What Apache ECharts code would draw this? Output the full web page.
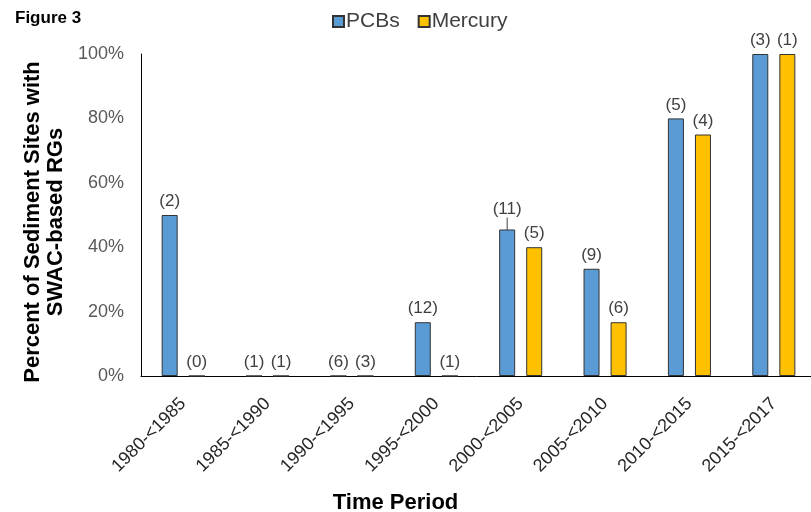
<!DOCTYPE html>
<html>
<head>
<meta charset="utf-8">
<script src="https://cdn.jsdelivr.net/npm/echarts@6/dist/echarts.min.js"></script>
<style>
  html, body { margin: 0; padding: 0; background: #fff; }
  #chart { width: 811px; height: 512px; }
</style>
</head>
<body>
<div id="chart"></div>
<script>
// Time periods on the x axis
const periods = ['1980-<1985', '1985-<1990', '1990-<1995', '1995-<2000',
                 '2000-<2005', '2005-<2010', '2010-<2015', '2015-<2017'];
// Percent of sites with SWAC-based RGs
const pcbPct = [50, 0, 0, 16.7, 45.5, 33.3, 80, 100];
const mercuryPct = [0, 0, 0, 0, 40, 16.7, 75, 100];
// Number of sites in each period (shown above the bars)
const pcbSites = [2, 1, 6, 12, 11, 9, 5, 3];
const mercurySites = [0, 1, 3, 1, 5, 6, 4, 1];
// Y axis tick values
const yTicks = [0, 20, 40, 60, 80, 100];

const FONT = '"Liberation Sans", Arial, sans-serif';
// The (11) count label is lifted a little and tied to its bar by a short leader
const LIFTED = 4;

const chart = echarts.init(document.getElementById('chart'), null, { renderer: 'canvas' });

function countLabel(counts) {
  return {
    show: true,
    position: 'top',
    distance: 5,
    fontFamily: FONT,
    fontSize: 17,
    color: '#404040',
    formatter: p => '(' + counts[p.dataIndex] + ')'
  };
}

const pcbData = pcbPct.map((v, i) =>
  i === LIFTED ? { value: v, labelLine: { show: true, lineStyle: { color: '#404040', width: 1 } } } : v);

chart.setOption({
  animation: false,
  backgroundColor: '#ffffff',
  title: {
    text: 'Figure 3',
    left: 10,
    top: 5,
    textStyle: { fontFamily: FONT, fontSize: 17, fontWeight: 'bold', color: '#000' }
  },
  legend: {
    top: 6,
    left: 327,
    itemWidth: 11,
    itemHeight: 11,
    itemGap: 18,
    icon: 'rect',
    textStyle: { fontFamily: FONT, fontSize: 21, color: '#404040', padding: [0, 0, 0, -3] },
    data: ['PCBs', 'Mercury']
  },
  grid: { left: 141, top: 54, width: 675, height: 322, containLabel: false, outerBoundsMode: 'none' },
  xAxis: {
    type: 'category',
    data: periods,
    name: 'Time Period',
    nameLocation: 'middle',
    nameGap: 116,
    nameTextStyle: { fontFamily: FONT, fontSize: 22, fontWeight: 'bold', color: '#000', padding: [0, 166, 0, 0] },
    axisLine: { lineStyle: { color: '#000', width: 1 } },
    axisTick: { show: false },
    axisLabel: { rotate: 45, fontFamily: FONT, fontSize: 18, color: '#262626', margin: 25, interval: 0 }
  },
  yAxis: {
    type: 'value',
    min: yTicks[0],
    max: yTicks[yTicks.length - 1],
    interval: 20,
    name: 'Percent of Sediment Sites with\nSWAC-based RGs',
    nameLocation: 'middle',
    nameGap: 72,
    nameTextStyle: { fontFamily: FONT, fontSize: 22, fontWeight: 'bold', color: '#000', lineHeight: 23, padding: [0, 14, 0, 0] },
    axisLine: { show: true, lineStyle: { color: '#000', width: 1 } },
    axisTick: { show: false },
    splitLine: { show: false },
    axisLabel: { fontFamily: FONT, fontSize: 18, color: '#595959', margin: 17, formatter: v => v + '%' }
  },
  series: [
    {
      name: 'PCBs',
      type: 'bar',
      data: pcbData,
      barWidth: 16,
      barGap: '69%',
      itemStyle: { color: '#5B9BD5', borderColor: '#333', borderWidth: 1 },
      label: countLabel(pcbSites),
      labelLayout: p => (p.dataIndex === LIFTED ? { dy: -7 } : {})
    },
    {
      name: 'Mercury',
      type: 'bar',
      data: mercuryPct,
      barWidth: 16,
      itemStyle: { color: '#FFC000', borderColor: '#333', borderWidth: 1 },
      label: countLabel(mercurySites)
    }
  ]
});
</script>
</body>
</html>
